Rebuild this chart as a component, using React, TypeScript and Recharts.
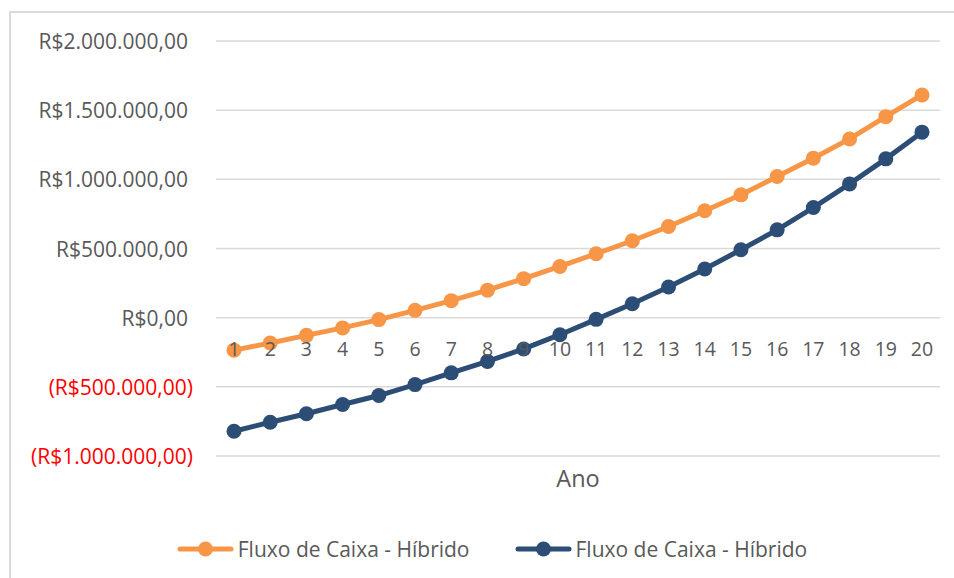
import { LineChart, Line, XAxis, YAxis, CartesianGrid, Legend, Label } from "recharts";

const anos = [1, 2, 3, 4, 5, 6, 7, 8, 9, 10, 11, 12, 13, 14, 15, 16, 17, 18, 19, 20];
const fluxoLaranja = [
  -235000, -183000, -128000, -74000, -14000, 53000, 123000, 199000, 282000, 370000,
  462000, 556000, 659000, 773000, 888000, 1020000, 1153000, 1292000, 1453000, 1610000,
];
const fluxoAzul = [
  -821000, -756000, -695000, -628000, -563000, -484000, -399000, -316000, -226000, -123000,
  -12000, 101000, 222000, 352000, 491000, 635000, 796000, 967000, 1148000, 1341000,
];
const yTicks = [-1000000, -500000, 0, 500000, 1000000, 1500000, 2000000];
const serieNomes = ["Fluxo de Caixa - Híbrido", "Fluxo de Caixa - Híbrido"];

const data = anos.map((ano, i) => ({ ano, laranja: fluxoLaranja[i], azul: fluxoAzul[i] }));

const W = 954;
const H = 578;
const PLOT_TOP = 41;
const PLOT_BOTTOM = 456;
const Y_MIN = -1000000;
const Y_MAX = 2000000;
const FONT = "'Open Sans', Lato, sans-serif";
const GRAY = "#595959";

function brl(v: number) {
  const abs = Math.abs(v);
  const inteiro = Math.floor(abs).toString().replace(/\B(?=(\d{3})+(?!\d))/g, ".");
  const txt = "R$" + inteiro + ",00";
  return v < 0 ? "(" + txt + ")" : txt;
}

function YTick(props: any) {
  const { x, y, payload } = props;
  const neg = payload.value < 0;
  return (
    <text
      x={x - (neg ? 23 : 28)}
      y={y}
      textAnchor="end"
      dominantBaseline="central"
      fontFamily={FONT}
      fontSize={21}
      fill={neg ? "#ff0000" : GRAY}
    >
      {brl(payload.value)}
    </text>
  );
}

// eixo de categorias cruza no zero
const zeroY = PLOT_TOP + ((PLOT_BOTTOM - PLOT_TOP) * (Y_MAX - 0)) / (Y_MAX - Y_MIN);

function XTick(props: any) {
  const { x, payload } = props;
  return (
    <text x={x} y={zeroY + 31} textAnchor="middle" dominantBaseline="central" fontFamily={FONT} fontSize={19.5} fill={GRAY}>
      {payload.value}
    </text>
  );
}

function LegendaConteudo(props: any) {
  const { payload } = props;
  return (
    <div style={{ display: "flex", justifyContent: "center", alignItems: "center", height: 30, paddingLeft: 44 }}>
      {payload.map((p: any, i: number) => (
        <div key={i} style={{ display: "flex", alignItems: "center", marginLeft: i > 0 ? 45 : 0 }}>
          <svg width={57} height={18}>
            <line x1={3} y1={9} x2={54} y2={9} stroke={p.color} strokeWidth={5} strokeLinecap="round" />
            <circle cx={28.5} cy={9} r={7.5} fill={p.color} />
          </svg>
          <span style={{ fontFamily: FONT, fontSize: 21, color: GRAY, marginLeft: 4 }}>{p.value}</span>
        </div>
      ))}
    </div>
  );
}

export default function App() {
  return (
    <div style={{ position: "absolute", left: 0, top: 0, width: W, height: H, overflow: "hidden", background: "#fff" }}>
      <div
        style={{
          position: "absolute",
          left: 9,
          top: 11,
          width: 1000,
          height: 600,
          border: "2px solid #d9d9d9",
        }}
      />
      <div style={{ position: "absolute", left: 0, top: 0 }}>
        <LineChart width={W} height={H} data={data} margin={{ top: PLOT_TOP, right: 14, bottom: 14, left: 0 }}>
          <CartesianGrid horizontal vertical={false} stroke="#d9d9d9" strokeWidth={1.5} />
          <XAxis
            dataKey="ano"
            padding={{ left: 18, right: 18 }}
            axisLine={false}
            tickLine={false}
            height={H - 14 - 30 - PLOT_BOTTOM}
            tick={<XTick />}
            interval={0}
          >
            <Label value="Ano" position="insideTop" offset={14} fontFamily={FONT} fontSize={23.5} fill={GRAY} />
          </XAxis>
          <YAxis
            width={216}
            domain={[Y_MIN, Y_MAX]}
            ticks={yTicks}
            axisLine={false}
            tickLine={false}
            tickSize={0}
            tickMargin={0}
            tick={<YTick />}
            interval={0}
          />
          <Legend verticalAlign="bottom" content={<LegendaConteudo />} />
          <Line
            dataKey="laranja"
            name={serieNomes[0]}
            stroke="#F79646"
            strokeWidth={5}
            dot={{ r: 7.5, fill: "#F79646", stroke: "#F79646", strokeWidth: 0 }}
            activeDot={false}
            isAnimationActive={false}
          />
          <Line
            dataKey="azul"
            name={serieNomes[1]}
            stroke="#2C4D75"
            strokeWidth={5}
            dot={{ r: 7.5, fill: "#2C4D75", stroke: "#2C4D75", strokeWidth: 0 }}
            activeDot={false}
            isAnimationActive={false}
          />
        </LineChart>
      </div>
    </div>
  );
}
